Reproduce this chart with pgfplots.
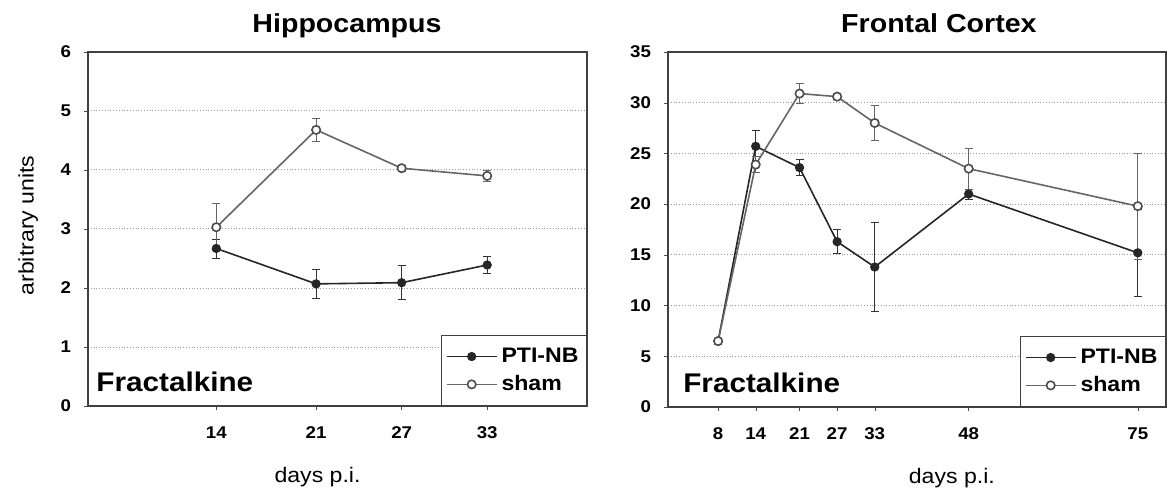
\documentclass[border=0pt]{standalone}
\usepackage{fontspec}
\setmainfont{Liberation Sans}[FakeStretch=1.1]
\usepackage{pgfplots}
\pgfplotsset{compat=1.18}
\begin{document}
\begin{tikzpicture}
\useasboundingbox (0,0) rectangle (583.5pt,246.5pt);
\pgfplotsset{
 every axis title/.style={font=\bfseries\fontsize{13}{15}\selectfont, anchor=base},
 panel/.style={
  scale only axis,
  anchor=south west,
  axis line style={black!75, line width=0.6pt},
  ymajorgrids, grid style={densely dotted, black!40, line width=0.5pt},
  tick align=outside, major tick length=2pt, tick style={black!70},
  xtick pos=bottom, ytick pos=left,
  /pgf/number format/assume math mode=true,
  ticklabel style={font=\bfseries\fontsize{8.5}{10}\selectfont},
  yticklabel style={xshift=-3pt},
  xticklabel style={yshift=-5pt},
  xlabel style={font=\fontsize{10.5}{12}\selectfont, anchor=center},
  ylabel style={font=\fontsize{10.5}{12}\selectfont, anchor=center},
  legend style={draw=black!75, line width=0.5pt, at={(1,0)}, anchor=south east,
    inner xsep=2pt, inner ysep=4pt, font=\bfseries\fontsize{10.5}{12}\selectfont,
    row sep=1pt, nodes={inner sep=2pt}},
  legend cell align=left,
  legend image code/.code={\draw[mark repeat=2,mark phase=2,##1] plot coordinates {(0pt,0pt) (12.5pt,0pt) (25pt,0pt)};},
 },
 pti/.style={black!85, line width=0.8pt, mark=*, mark size=1.9pt,
   mark options={fill=black!85, solid},
   error bars/.cd, y dir=both, y explicit,
   error bar style={line width=0.5pt, black!80},
   error mark options={rotate=90, mark size=2pt, black!80}},
 sham/.style={black!60, line width=0.8pt, mark=*, mark size=2.1pt,
   mark options={fill=white, draw=black!70, solid},
   error bars/.cd, y dir=both, y explicit,
   error bar style={line width=0.5pt, black!60},
   error mark options={rotate=90, mark size=2pt, black!60}},
}
% Left panel
\begin{axis}[panel, at={(44pt,43.5pt)}, width=249.5pt, height=177pt,
  xmin=5, xmax=40, ymin=0, ymax=6, ytick={0,1,...,6}, xtick={14,21,27,33},
  title={Hippocampus}, title style={at={(axis description cs:0.519,1.056)}},
  xlabel={days p.i.}, xlabel style={at={(axis description cs:0.46,-0.2)}},
  ylabel={arbitrary units}, ylabel style={at={(axis description cs:-0.12,0.51)}}]
\addplot[pti] coordinates {
 (14,2.67) +- (0,0.16)
 (21,2.07) +- (0,0.25)
 (27,2.09) +- (0,0.29)
 (33,2.39) +- (0,0.14)
};
\addplot[sham] coordinates {
 (14,3.03) +- (0,0.40)
 (21,4.68) +- (0,0.20)
 (27,4.03) +- (0,0.05)
 (33,3.90) +- (0,0.10)
};
\legend{PTI-NB, sham}
\node[anchor=base west, inner sep=0pt, font=\bfseries\fontsize{13.5}{15}\selectfont] at (axis description cs:0.016,0.04) {Fractalkine};
\end{axis}
% Right panel
\begin{axis}[panel, at={(334pt,43pt)}, width=249pt, height=177.5pt,
  xmin=0, xmax=79.5, ymin=0, ymax=35, ytick={0,5,...,35}, xtick={8,14,21,27,33,48,75},
  title={Frontal Cortex}, title style={at={(axis description cs:0.544,1.056)}},
  xlabel={days p.i.}, xlabel style={at={(axis description cs:0.57,-0.2)}}]
\addplot[pti] coordinates {
 (8,6.5) +- (0,0.3)
 (14,25.7) +- (0,1.6)
 (21,23.6) +- (0,0.8)
 (27,16.3) +- (0,1.2)
 (33,13.8) +- (0,4.4)
 (48,21.0) +- (0,0.5)
 (75,15.2) +- (0,4.3)
};
\addplot[sham] coordinates {
 (8,6.5) +- (0,0.3)
 (14,23.9) +- (0,0.8)
 (21,30.9) +- (0,1.0)
 (27,30.6) +- (0,0.3)
 (33,28.0) +- (0,1.7)
 (48,23.5) +- (0,2.0)
 (75,19.8) +- (0,5.2)
};
\legend{PTI-NB, sham}
\node[anchor=base west, inner sep=0pt, font=\bfseries\fontsize{13.5}{15}\selectfont] at (axis description cs:0.03,0.04) {Fractalkine};
\end{axis}
\end{tikzpicture}
\end{document}
